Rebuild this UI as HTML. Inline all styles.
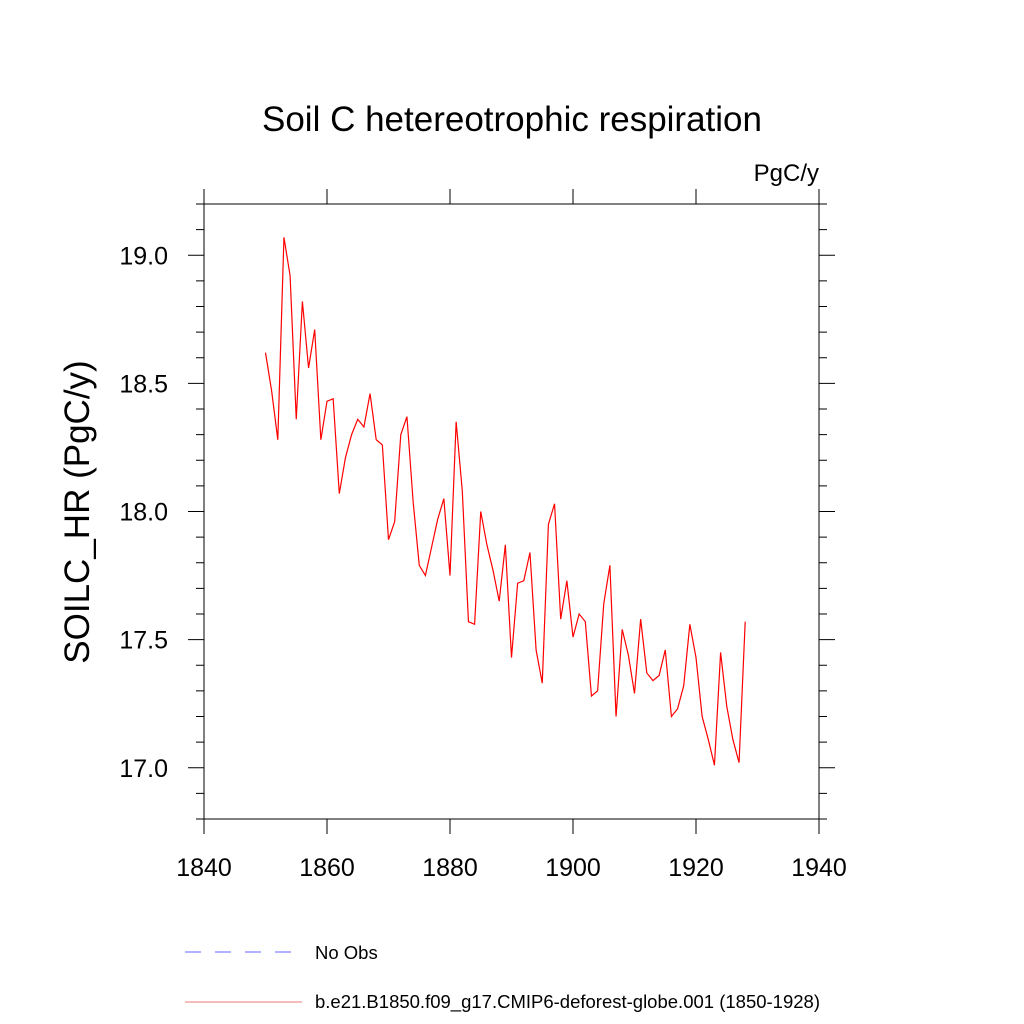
<!DOCTYPE html>
<html><head><meta charset="utf-8"><style>
body{margin:0;background:#fff;}
svg{display:block;font-family:"Liberation Sans",sans-serif;}
</style></head><body>
<svg id="chart" width="1024" height="1024">
<text x="512" y="131" text-anchor="middle" font-size="35">Soil C hetereotrophic respiration</text>
<text x="819" y="181" text-anchor="end" font-size="24">PgC/y</text>
<text transform="translate(89,512) rotate(-90)" text-anchor="middle" font-size="35">SOILC_HR  (PgC/y)</text>
<g id="axes"></g>
<polyline id="series" fill="none" stroke="#ff0000" stroke-width="1.2"></polyline>
<line x1="185" y1="952" x2="291" y2="952" stroke="#6666ff" stroke-width="1" stroke-dasharray="16,14"/>
<text x="315" y="959" font-size="18.5">No Obs</text>
<line x1="185" y1="1002" x2="302" y2="1002" stroke="#ee7777" stroke-width="1"/>
<text x="315" y="1008" font-size="18.5">b.e21.B1850.f09_g17.CMIP6-deforest-globe.001 (1850-1928)</text>
</svg>
<script>
const years=[];for(let y=1850;y<=1928;y++)years.push(y);
const values=[18.62,18.47,18.28,19.07,18.92,18.36,18.82,18.56,18.71,18.28,18.43,18.44,18.07,18.21,18.30,18.36,18.33,18.46,18.28,18.26,17.89,17.96,18.30,18.37,18.04,17.79,17.75,17.86,17.97,18.05,17.75,18.35,18.08,17.57,17.56,18.00,17.87,17.77,17.65,17.87,17.43,17.72,17.73,17.84,17.46,17.33,17.95,18.03,17.58,17.73,17.51,17.60,17.57,17.28,17.30,17.64,17.79,17.20,17.54,17.44,17.29,17.58,17.37,17.34,17.36,17.46,17.20,17.23,17.32,17.56,17.43,17.20,17.11,17.01,17.45,17.24,17.11,17.02,17.57];
const xTicks=[1840,1860,1880,1900,1920,1940];
const yTicks=[17.0,17.5,18.0,18.5,19.0];
const X0=204,X1=819,Y0=204,Y1=819,xmin=1840,xmax=1940,ymin=16.8,ymax=19.2;
const sx=v=>X0+(v-xmin)/(xmax-xmin)*(X1-X0);
const sy=v=>Y1-(v-ymin)/(ymax-ymin)*(Y1-Y0);
const NS='http://www.w3.org/2000/svg';
const g=document.getElementById('axes');
function ln(x1,y1,x2,y2,name){const l=document.createElementNS(NS,'line');l.setAttribute('x1',x1);l.setAttribute('y1',y1);l.setAttribute('x2',x2);l.setAttribute('y2',y2);l.setAttribute('stroke','#000');l.setAttribute('stroke-width','1');


g.appendChild(l);}
function tx(x,y,s,anchor,name){const t=document.createElementNS(NS,'text');t.setAttribute('x',x);t.setAttribute('y',y);t.setAttribute('text-anchor',anchor);t.setAttribute('font-size','25');t.textContent=s;


g.appendChild(t);}
const fr=document.createElementNS(NS,'rect');fr.setAttribute('x',X0);fr.setAttribute('y',Y0);fr.setAttribute('width',X1-X0);fr.setAttribute('height',Y1-Y0);fr.setAttribute('fill','none');fr.setAttribute('stroke','#000');


g.appendChild(fr);
xTicks.forEach(v=>{const x=sx(v);ln(x,Y1,x,Y1+15,'x-tick');ln(x,Y0,x,Y0-15,'x-tick-top');});
xTicks.forEach(v=>tx(sx(v),Y1+57,String(v),'middle','x-tick-label'));
for(let i=0;i<=24;i++){const v=ymin+i*0.1;const y=sy(v);const maj=Math.abs(v*2-Math.round(v*2))<1e-6;const L=maj?16:8;ln(X0,y,X0-L,y,'y-tick');ln(X1,y,X1+L,y,'y-tick-right');}
yTicks.forEach(v=>tx(X0-36,sy(v)+9,v.toFixed(1),'end','y-tick-label'));
document.getElementById('series').setAttribute('points',years.map((y,i)=>sx(y)+','+sy(values[i])).join(' '));
</script>
</body></html>
